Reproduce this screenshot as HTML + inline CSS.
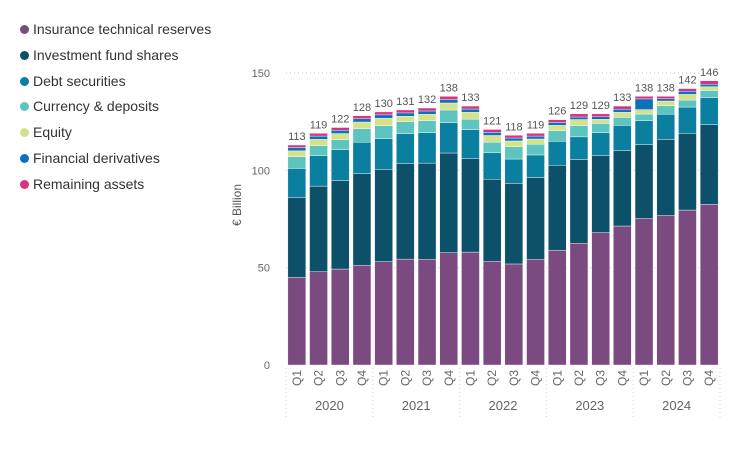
<!DOCTYPE html>
<html><head><meta charset="utf-8">
<style>
body{margin:0;background:#fff;font-family:"Liberation Sans",sans-serif;}
#wrap{position:relative;width:756px;height:450px;overflow:hidden;}
.leg{position:absolute;left:20px;font-size:14px;color:#333;white-space:nowrap;}
.leg span.dot{display:inline-block;width:9px;height:9px;border-radius:50%;margin-right:4px;vertical-align:0px;}
</style></head>
<body><div id="wrap">
<div id="legend"></div>
<svg id="svg" width="756" height="450" style="position:absolute;left:0;top:0"></svg>
</div>
<script>
const years=["2020","2021","2022","2023","2024"];
const quarters=["Q1","Q2","Q3","Q4"];
const totals=[113,119,122,128,130,131,132,138,133,121,118,119,126,129,129,133,138,138,142,146];
const insurance=[45,47.9,49.3,51.2,53.1,54.4,54.3,57.7,58,53.3,51.9,54.3,59,62.5,68,71.4,75.2,76.9,79.6,82.5];
const investment=[41.1,44,45.4,47.1,47.4,49,49.4,51.2,48,42.1,41.4,42,43.6,43,39.5,38.8,38,39,39.4,41];
const debt=[14.9,15.6,15.9,16.1,15.7,15.4,15.6,15.6,14.9,13.6,12.5,11.6,12.3,11.7,11.8,12.9,12.3,12.9,13.5,13.9];
const currency=[6,5.1,5.1,7,6.7,6.2,6.2,6.5,5.4,5.5,6.3,5.5,5.4,5.8,4.8,4.1,3.4,4.4,3.6,3.6];
const derivatives=[1.7,1.7,1.7,1.7,1.7,1.7,1.7,1.8,1.7,1.6,1.5,1.5,1.5,1.3,1.3,1.6,5.5,1.2,1.6,1.2];
const remaining=[1.3,1.4,1.4,1.5,1.5,1.5,1.5,1.6,1.5,1.5,1.4,1.4,1.4,1.6,1.5,1.6,1.3,1.2,1.4,1.8];
const equity=totals.map((t,i)=>Math.max(0,t-insurance[i]-investment[i]-debt[i]-currency[i]-derivatives[i]-remaining[i]));
const yTicks=[0,50,100,150];
const seriesNames=["Insurance technical reserves","Investment fund shares","Debt securities","Currency & deposits","Equity","Financial derivatives","Remaining assets"];
const seriesKeys=["insurance","investment","debt","currency","equity","derivatives","remaining"];
const seriesData=[insurance,investment,debt,currency,equity,derivatives,remaining];
const colors=["#7B4A80","#0C5069","#0A7F9F","#5EC4C0","#D5E28C","#0A72BD","#D9307F"];

const NS="http://www.w3.org/2000/svg";
const svg=document.getElementById('svg');
const x0=286,x1=720,y0=365,y150=73;
const n=totals.length,pitch=(x1-x0)/n,bw=18;
const y=v=>y0-(v/150)*(y0-y150);
const xc=i=>x0+pitch*i+pitch/2;
function el(tag,a){const e=document.createElementNS(NS,tag);for(const k in a)e.setAttribute(k,a[k]);svg.appendChild(e);return e;}

// legend
const leg=document.getElementById('legend');
seriesNames.forEach((nm,i)=>{const d=document.createElement('div');d.className='leg';d.style.top=(21+i*25.8)+'px';
d.innerHTML='<span class="dot" style="background:'+colors[i]+'"></span>'+nm.replace('&','&amp;');


leg.appendChild(d);});

// grid + ticks
yTicks.forEach(t=>{
 if(t>0){const g=el('line',{x1:x0,x2:x1,y1:y(t),y2:y(t),stroke:'#c8c8c8','stroke-dasharray':'1,3'});
 
 }
 const tx=el('text',{x:270,y:y(t)+4,'text-anchor':'end','font-size':'11',fill:'#666'});tx.textContent=t;
 
 
});
const yt=el('text',{x:0,y:0,'font-size':'12',fill:'#555','text-anchor':'middle',transform:'translate(241,205) rotate(-90)'});
yt.textContent='€ Billion';



// bars
for(let i=0;i<n;i++){
 let cum=0;
 seriesData.forEach((s,k)=>{
  const v=s[i];const r=el('rect',{x:xc(i)-bw/2,y:y(cum+v),width:bw,height:Math.max(0,y(cum)-y(cum+v)),fill:colors[k],stroke:'#fff','stroke-width':0.4});
  
  
  cum+=v;
 });
 const lb=el('text',{x:xc(i),y:y(totals[i])-5,'text-anchor':'middle','font-size':'11',fill:'#555'});
 lb.textContent=totals[i];
 
 
 const q=el('text',{x:0,y:0,'font-size':'12',fill:'#666','text-anchor':'end',transform:'translate('+(xc(i)+4)+',370) rotate(-90)'});
 q.textContent=quarters[i%4];
 
 
}
// year labels and separators
for(let j=0;j<=years.length;j++){
 const xs=x0+pitch*4*j;
 const sep=el('line',{x1:xs,x2:xs,y1:368,y2:418,stroke:'#d0d0d0','stroke-dasharray':'1,3'});
 
 
 if(j<years.length){
  const yl=el('text',{x:xs+pitch*2,y:410,'text-anchor':'middle','font-size':'13',fill:'#666'});
  yl.textContent=years[j];
  
  
 }
}
</script></body></html>
